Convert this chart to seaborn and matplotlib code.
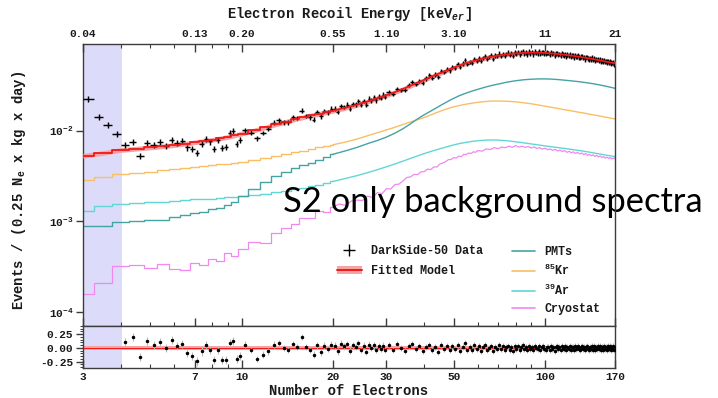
import numpy as np
import pandas as pd
import matplotlib
matplotlib.use("Agg")
import matplotlib.pyplot as plt
import seaborn as sns
from matplotlib.ticker import (FixedLocator, FixedFormatter, NullFormatter,
                               NullLocator, MultipleLocator)
from matplotlib.lines import Line2D
from matplotlib.patches import Patch

# ---------------------------------------------------------------- spectra
# Model curves, rate in units of 1e-3 events / (0.25 Ne x kg x day)
knot_ne = [3.0, 3.5, 4.0, 4.5, 5.0, 5.5, 6.0, 6.5, 7.0, 7.5, 8.0, 8.5, 9.0, 9.5, 10,
           11, 12, 13, 14, 15, 16, 17, 18, 19, 20,
           22, 24, 26, 28, 30, 32, 34, 36, 38, 40,
           43, 46, 49, 52, 55, 58, 61, 64, 67, 70,
           75, 80, 85, 90, 95, 100, 105, 110, 115, 120, 125, 130, 135, 140, 145,
           150, 155, 160, 165, 170]

fit_model = [5.30, 5.70, 6.15, 6.35, 6.55, 6.75, 6.95, 7.20, 7.45, 7.70, 7.95, 8.25, 8.55, 8.90, 9.30,
             10.1, 10.9, 11.8, 12.6, 13.4, 14.1, 14.8, 15.4, 16.0, 16.6,
             17.9, 19.3, 21.0, 22.8, 24.6, 26.6, 28.8, 31.3, 33.8, 36.3,
             40.5, 44.2, 48.2, 52.0, 55.5, 58.5, 61.3, 63.6, 65.5, 67.1,
             69.5, 71.0, 71.9, 72.3, 72.3, 71.8, 71.0, 70.0, 68.8, 67.6, 66.4, 65.1, 63.8, 62.5, 61.2,
             59.9, 58.6, 57.3, 56.2, 55.2]

pmts = [0.90, 0.90, 0.98, 1.00, 1.05, 1.05, 1.12, 1.18, 1.24, 1.26, 1.36, 1.40, 1.52, 1.62, 1.90,
        2.30, 2.75, 3.20, 3.55, 3.85, 4.15, 4.40, 4.75, 5.10, 5.50,
        6.00, 6.55, 7.20, 7.80, 8.50, 9.40, 10.5, 11.9, 13.5, 15.0,
        17.2, 19.6, 22.0, 24.2, 26.0, 27.6, 29.0, 30.4, 31.6, 32.6,
        34.3, 35.5, 36.4, 36.9, 37.2, 37.2, 37.0, 36.6, 36.1, 35.6, 35.1, 34.6, 34.0, 33.4, 32.8,
        32.1, 31.4, 30.7, 30.0, 29.3]

kr85 = [2.86, 3.10, 3.32, 3.45, 3.55, 3.65, 3.75, 3.85, 3.95, 4.05, 4.15, 4.25, 4.35, 4.45, 4.55,
        4.75, 4.98, 5.25, 5.55, 5.80, 6.05, 6.30, 6.55, 6.80, 7.00,
        7.50, 8.10, 8.80, 9.50, 10.2, 10.9, 11.7, 12.5, 13.2, 14.0,
        15.4, 16.8, 18.0, 18.9, 19.6, 20.2, 20.7, 21.0, 21.2, 21.2,
        21.1, 20.8, 20.3, 19.8, 19.2, 18.6, 18.1, 17.6, 17.1, 16.7, 16.3, 15.9, 15.6, 15.2, 14.9,
        14.6, 14.3, 14.0, 13.7, 13.5]

ar39 = [1.31, 1.48, 1.56, 1.60, 1.63, 1.66, 1.69, 1.72, 1.75, 1.77, 1.79, 1.81, 1.84, 1.87, 1.90,
        1.96, 2.03, 2.10, 2.18, 2.27, 2.36, 2.45, 2.55, 2.65, 2.76,
        2.98, 3.20, 3.45, 3.72, 4.00, 4.30, 4.62, 4.95, 5.28, 5.60,
        6.05, 6.45, 6.85, 7.20, 7.45, 7.65, 7.80, 7.88, 7.90, 7.88,
        7.75, 7.55, 7.35, 7.15, 6.97, 6.80, 6.65, 6.52, 6.40, 6.28, 6.16, 6.04, 5.92, 5.80, 5.68,
        5.57, 5.46, 5.36, 5.27, 5.18]

# the cryostat template is noisier and is kept on a finer grid above 20 Ne
cryostat_ne = knot_ne[:25] + list(range(21, 61)) + list(range(62, 171, 2))
cryostat = [0.158, 0.21, 0.32, 0.33, 0.31, 0.34, 0.30, 0.29, 0.35, 0.33, 0.39, 0.37, 0.45, 0.42, 0.50,
            0.60, 0.58, 0.74, 0.85, 0.95, 1.10, 1.08, 1.30, 1.28, 1.45,
            1.56, 1.50, 1.68, 1.72, 1.70, 1.90, 1.84, 2.08, 2.02, 2.30,
            2.28, 2.55, 2.58, 2.80, 3.05, 3.10, 3.30, 3.28, 3.52, 3.55,
            3.78, 3.72, 4.00, 3.98, 4.30, 4.40, 4.55, 4.80, 4.82, 5.05,
            5.00, 5.25, 5.18, 5.50, 5.45, 5.68, 5.60, 5.85, 5.78, 6.05,
            5.95, 6.30, 6.20, 6.50, 6.35, 6.60, 6.50, 6.75, 6.55, 6.85,
            6.60, 6.75, 6.55, 6.70, 6.45, 6.62, 6.38, 6.50, 6.25, 6.42,
            6.18, 6.30, 6.08, 6.22, 5.98, 6.12, 5.90, 6.02, 5.78, 5.92,
            5.72, 5.85, 5.62, 5.76, 5.55, 5.68, 5.45, 5.60, 5.36, 5.50,
            5.30, 5.42, 5.20, 5.35, 5.14, 5.28, 5.06, 5.18, 4.98, 5.12,
            4.95, 5.06, 4.88, 5.02, 4.90]

# ---------------------------------------------------------------- data
# bin layout: (first centre, last centre, width, relative uncertainty)
bin_segments = [(3.125, 9.875, 0.25, 0.075),
                (10.25, 29.75, 0.5, 0.06),
                (30.5, 169.5, 1.0, 0.055)]

data_rate = [22.3, 14.1, 11.5, 9.2, 6.91, 7.60, 5.31, 7.28, 6.96, 7.47, 6.75, 7.94, 7.28, 7.67,
             6.54, 6.36, 5.66, 7.18, 8.18, 7.61, 6.24, 7.90, 6.47, 6.63, 9.44, 9.97, 7.20, 7.91,
             10.07, 9.50, 8.24, 9.42, 10.43, 12.30, 13.08, 12.40, 12.42, 14.12,
             13.87, 16.68, 14.59, 14.02, 13.20, 16.07, 14.35, 16.54, 15.88, 17.49,
             17.47, 16.07, 18.79, 18.23, 19.37, 17.48, 19.74, 19.48, 21.26, 19.30,
             21.22, 19.34, 22.47, 21.70, 23.21, 21.70, 23.69, 23.03, 24.86, 23.67,
             26.36, 25.32, 29.05, 28.25, 27.93, 31.93, 34.45, 32.54, 35.43, 33.56,
             37.74, 40.70, 38.21, 41.51, 39.34, 45.78, 44.45, 47.59, 46.08, 50.75,
             49.10, 54.48, 49.97, 54.88, 59.84, 54.32, 57.57, 55.68, 61.95, 58.70,
             62.62, 58.62, 63.65, 66.99, 61.98, 64.60, 67.81, 61.85, 67.63, 66.13,
             70.67, 66.44, 70.35, 66.05, 69.99, 72.49, 67.90, 71.71, 67.07, 73.03,
             70.39, 74.15, 69.36, 73.03, 75.39, 70.46, 72.72, 69.22, 74.37, 70.85,
             73.75, 69.41, 74.47, 72.30, 70.85, 75.14, 69.99, 72.77, 74.11, 71.13,
             69.55, 73.03, 72.11, 68.40, 73.23, 70.19, 72.11, 66.98, 71.00, 72.20,
             68.50, 70.30, 67.32, 71.97, 68.90, 67.33, 70.45, 65.47, 69.36, 67.02,
             69.53, 65.18, 67.67, 68.14, 63.84, 68.29, 65.34, 65.70, 68.12, 63.90,
             63.05, 65.99, 66.44, 62.92, 64.54, 61.15, 64.67, 65.10, 62.27, 60.72,
             63.65, 60.86, 64.38, 59.75, 61.91, 62.93, 58.37, 61.81, 59.70, 61.80,
             58.60, 61.29, 56.93, 59.59, 59.87, 56.75, 60.53, 57.42, 58.85, 55.68,
             57.77, 58.71, 55.66, 58.76, 54.61, 57.22, 55.34, 57.37, 53.28, 56.41]

# (data - model) / model, not shown inside the low-energy exclusion band
residual = [np.nan, np.nan, np.nan, np.nan,
            0.115, 0.206, -0.17, 0.12, 0.055, 0.115, -0.007, 0.15, 0.04, 0.073,
            -0.098, -0.14, -0.245, -0.062, 0.055, -0.037, -0.22, -0.037, -0.22, -0.22,
            0.091, 0.133, -0.2, -0.14,
            0.06, -0.04, -0.20, -0.12, -0.06, 0.06, 0.09, 0.00, -0.03, 0.07,
            0.02, 0.20, 0.02, -0.04, -0.12, 0.05, -0.08, 0.04, -0.02, 0.06,
            0.04, -0.06, 0.08, 0.03, 0.07, -0.05, 0.05, 0.02, 0.09, -0.03,
            0.04, -0.07, 0.06, 0.00, 0.05, -0.04, 0.03, -0.02, 0.04, -0.03,
            0.05, -0.03, 0.07, 0.00, -0.05, 0.04, 0.08, -0.02, 0.03, -0.06,
            0.02, 0.06, -0.04, 0.01, -0.07, 0.05, -0.01, 0.03, -0.03, 0.04,
            -0.02, 0.06, -0.05, 0.02, 0.09, -0.03, 0.01, -0.04, 0.05, -0.02,
            0.03, -0.05, 0.02, 0.06, -0.03, 0.00, 0.04, -0.06, 0.02, -0.01,
            0.05, -0.02, 0.03, -0.04, 0.01, 0.04, -0.03, 0.02, -0.05, 0.03,
            -0.01, 0.04, -0.03, 0.02, 0.05, -0.02, 0.01, -0.04, 0.03, -0.02,
            0.02, -0.04, 0.03, 0.00, -0.02, 0.04, -0.03, 0.01, 0.03, -0.01,
            -0.03, 0.02, 0.01, -0.04, 0.03, -0.01, 0.02, -0.05, 0.01, 0.03,
            -0.02, 0.01, -0.03, 0.04, 0.00, -0.02, 0.03, -0.04, 0.02, -0.01,
            0.03, -0.03, 0.01, 0.02, -0.04, 0.03, -0.01, 0.00, 0.04, -0.02,
            -0.03, 0.02, 0.03, -0.02, 0.01, -0.04, 0.02, 0.03, -0.01, -0.03,
            0.02, -0.02, 0.04, -0.03, 0.01, 0.03, -0.04, 0.02, -0.01, 0.03,
            -0.02, 0.03, -0.04, 0.01, 0.02, -0.03, 0.04, -0.01, 0.02, -0.03,
            0.01, 0.03, -0.02, 0.04, -0.03, 0.02, -0.01, 0.03, -0.04, 0.02]

# axis labelling
ne_major = [3, 7, 10, 20, 30, 50, 100, 170]
ne_minor = [4, 5, 6, 8, 9, 40, 60, 70, 80, 90]
ne_labels = ["3", "7", "10", "20", "30", "50", "100", "170"]
energy_labels = ["0.04", "0.13", "0.20", "0.55", "1.10", "3.10", "11", "21"]
excluded_region = (3.0, 4.04)

# ---------------------------------------------------------------- style
sns.set_theme(style="ticks")
MONO = "Liberation Mono"
plt.rcParams.update({
    "font.family": [MONO, "DejaVu Sans"],
    "font.weight": "bold",
    "mathtext.fontset": "custom",
    "mathtext.rm": "Liberation Mono:weight=bold",
    "mathtext.it": "Liberation Mono:style=italic:weight=bold",
    "mathtext.bf": "Liberation Mono:weight=bold",
    "axes.edgecolor": "#3c3c3c",
    "axes.linewidth": 1.0,
    "text.color": "#1a1a1a",
    "axes.labelcolor": "#1a1a1a",
    "xtick.color": "#3c3c3c",
    "ytick.color": "#3c3c3c",
    "xtick.labelcolor": "#1a1a1a",
    "ytick.labelcolor": "#1a1a1a",
})

C_FIT, C_BAND = "#f01818", "#f7a3a3"
C_PMT, C_KR, C_AR, C_CRYO = "#45a3a3", "#f9bf66", "#62d6d6", "#f088f0"
C_SHADE = "#dcdcfa"

xlim = (3, 170)
FIG_W, FIG_H = 718, 398

fig = plt.figure(figsize=(FIG_W / 100, FIG_H / 100), dpi=100)
ax = fig.add_axes([83 / FIG_W, 1 - 326 / FIG_H, 532 / FIG_W, 282.5 / FIG_H])
axr = fig.add_axes([83 / FIG_W, 1 - 368.3 / FIG_H, 532 / FIG_W, 42.3 / FIG_H])

for a in (ax, axr):
    a.set_xscale("log")
    a.set_xlim(*xlim)
    a.axvspan(*excluded_region, color=C_SHADE, lw=0, zorder=0)
ax.set_yscale("log")
ax.set_ylim(7.06e-5, 0.0913)
axr.set_ylim(-0.37, 0.40)

# ---------------------------------------------------------------- build arrays
scale = 1e-3
centres, halfw, relerr = [], [], []
for first, last, width, err in bin_segments:
    c = np.arange(first, last + width / 2, width)
    centres.append(c)
    halfw.append(np.full(c.size, width / 2))
    relerr.append(np.full(c.size, err))
data_x = np.concatenate(centres)
data_xerr = np.concatenate(halfw)
data_rel = np.concatenate(relerr)
data_y = np.asarray(data_rate) * scale
resid = np.asarray(residual)

curve_sets = [("fit", knot_ne, fit_model), ("PMTs", knot_ne, pmts), ("Kr", knot_ne, kr85),
              ("Ar", knot_ne, ar39), ("Cryostat", cryostat_ne, cryostat)]
curves = pd.concat([pd.DataFrame({"ne": np.asarray(xs, float),
                                  "rate": np.asarray(ys) * scale,
                                  "component": name})
                    for name, xs, ys in curve_sets], ignore_index=True)


def draw_component(name, color, lw, zorder, split=20):
    part = curves[curves["component"] == name]
    low = part[part["ne"] <= split]
    high = part[part["ne"] >= split]
    sns.lineplot(data=low, x="ne", y="rate", ax=ax, color=color, lw=lw,
                 drawstyle="steps-mid", estimator=None, legend=False, zorder=zorder)
    sns.lineplot(data=high, x="ne", y="rate", ax=ax, color=color, lw=lw,
                 estimator=None, legend=False, zorder=zorder)


draw_component("Cryostat", C_CRYO, 0.9, 2)
draw_component("Ar", C_AR, 1.0, 2)
draw_component("Kr", C_KR, 1.0, 2)
draw_component("PMTs", C_PMT, 1.0, 2)

fit = curves[curves["component"] == "fit"]
ax.fill_between(fit["ne"], fit["rate"] * 0.94, fit["rate"] * 1.06,
                color=C_BAND, lw=0, zorder=3)

ax.errorbar(data_x, data_y, xerr=data_xerr, yerr=data_y * data_rel,
            fmt="none", ecolor="black", elinewidth=1.05, capsize=0, zorder=4)
draw_component("fit", C_FIT, 1.3, 5)

# ---------------------------------------------------------------- residuals
axr.fill_between(xlim, -0.035, 0.035, color=C_BAND, lw=0, zorder=1)
axr.axhline(0, color=C_FIT, lw=0.7, zorder=2)
axr.errorbar(data_x, resid, yerr=data_rel, fmt="o", ms=1.5, mfc="black",
             mec="black", ecolor="#bdbdbd", elinewidth=0.8, capsize=0, zorder=3)

# ---------------------------------------------------------------- ticks
TICK_FS = 8
for a in (ax, axr):
    a.xaxis.set_major_locator(FixedLocator(ne_major))
    a.xaxis.set_minor_locator(FixedLocator(ne_minor))
    a.xaxis.set_minor_formatter(NullFormatter())
    a.tick_params(axis="x", which="major", direction="in", length=6, width=1.0,
                  labelsize=TICK_FS, pad=3)
    a.tick_params(axis="x", which="minor", direction="in", length=3, width=0.8)
    a.tick_params(axis="y", which="major", direction="out", length=5, width=1.0,
                  labelsize=TICK_FS, pad=2, right=False)

ax.xaxis.set_major_formatter(FixedFormatter(energy_labels))
ax.tick_params(axis="x", which="both", top=True, bottom=True,
               labeltop=True, labelbottom=False)
axr.xaxis.set_major_formatter(FixedFormatter(ne_labels))
axr.tick_params(axis="x", which="both", top=False, bottom=True)

ax.yaxis.set_major_locator(FixedLocator([1e-4, 1e-3, 1e-2]))
ax.yaxis.set_major_formatter(FixedFormatter([r"$10^{-4}$", r"$10^{-3}$", r"$10^{-2}$"]))
ax.yaxis.set_minor_locator(NullLocator())

axr.yaxis.set_major_locator(FixedLocator([-0.25, 0.0, 0.25]))
axr.yaxis.set_major_formatter(FixedFormatter(["-0.25", "0.00", "0.25"]))
axr.yaxis.set_minor_locator(MultipleLocator(0.05))
axr.tick_params(axis="y", which="minor", direction="out", length=2.5, width=0.7)

# ---------------------------------------------------------------- labels
ax.set_xlabel(r"Electron Recoil Energy [keV$_{er}$]", fontsize=10, fontweight="bold")
ax.xaxis.set_label_position("top")
ax.xaxis.set_label_coords(0.5, 1 + (43.5 - 18) / 282.5)
ax.set_ylabel(r"Events / (0.25 N$_\mathrm{e}$ x kg x day)", fontsize=10, fontweight="bold")
ax.yaxis.set_label_coords((28 - 83) / 532, 0.48)
axr.set_xlabel("Number of Electrons", fontsize=10, fontweight="bold")
axr.xaxis.set_label_coords(0.5, -(384 - 368.3) / 42.3)

# ---------------------------------------------------------------- legends
legend_font = {"family": MONO, "weight": "bold", "size": 8.5}
leg_left = ax.legend(
    [Line2D([], [], color="black", marker="+", ms=9, mew=1.0, ls="none"),
     (Patch(facecolor=C_BAND, edgecolor="none"), Line2D([], [], color=C_FIT, lw=1.4))],
    ["DarkSide-50 Data", "Fitted Model"],
    loc="upper left", frameon=False,
    bbox_to_anchor=(337 / FIG_W, 1 - 245 / FIG_H), bbox_transform=fig.transFigure,
    borderaxespad=0, borderpad=0, prop=legend_font,
    handlelength=2.1, handletextpad=0.8, labelspacing=0.68)
ax.add_artist(leg_left)

ax.legend(
    [Line2D([], [], color=c, lw=1.2) for c in (C_PMT, C_KR, C_AR, C_CRYO)],
    ["PMTs", r"$^{85}$Kr", r"$^{39}$Ar", "Cryostat"],
    loc="upper left", frameon=False,
    bbox_to_anchor=(512 / FIG_W, 1 - 246 / FIG_H), bbox_transform=fig.transFigure,
    borderaxespad=0, borderpad=0, prop=legend_font,
    handlelength=1.95, handletextpad=0.8, labelspacing=0.42)

# ---------------------------------------------------------------- title overlay
title = ax.text(283 / FIG_W, 1 - 212 / FIG_H, "S2 only background spectra",
                transform=fig.transFigure, fontsize=26, family="Lato",
                fontweight="normal", color="black", ha="left", va="baseline",
                zorder=2.2, clip_on=False)
fig.canvas.draw()
width_px = title.get_window_extent().width
title.set_fontsize(26 * 418 / width_px)

fig.savefig("out.png", dpi=100)
